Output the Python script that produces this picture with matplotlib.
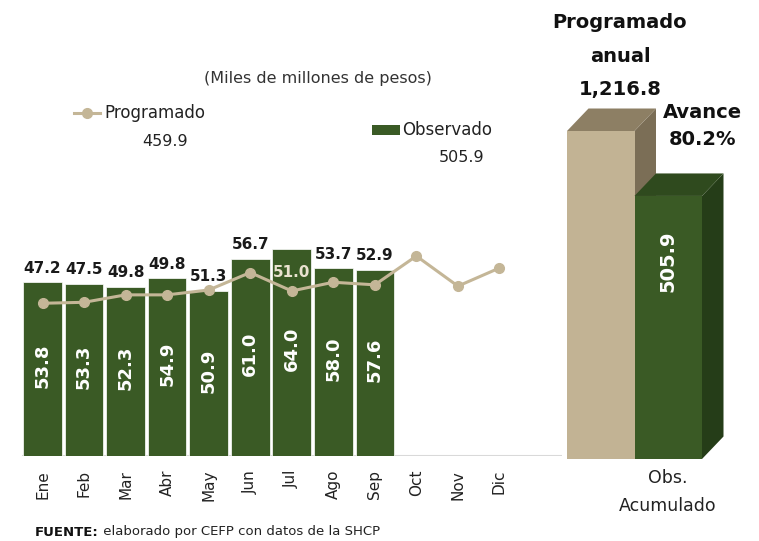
import numpy as np
import matplotlib
matplotlib.use("Agg")
import matplotlib.pyplot as plt
from matplotlib.lines import Line2D
from matplotlib.patches import Rectangle, Polygon

# ---- data ----
meses = ["Ene", "Feb", "Mar", "Abr", "May", "Jun", "Jul", "Ago", "Sep", "Oct", "Nov", "Dic"]
observado = [53.8, 53.3, 52.3, 54.9, 50.9, 61.0, 64.0, 58.0, 57.6]
programado = [47.2, 47.5, 49.8, 49.8, 51.3, 56.7, 51.0, 53.7, 52.9, 61.8, 52.5, 58.1]
n_etiq = 9                      # programado labelled only Ene-Sep
total_prog = 459.9
total_obs = 505.9
anual_prog = 1216.8
avance_pct = 80.2
acum_pct = [100.0, avance_pct]  # right panel: programado anual vs obs. acumulado

VERDE = "#3a5a25"; VERDE_TOP = "#2f4a1e"; VERDE_SIDE = "#253d18"
TAN = "#c2b394"; TAN_TOP = "#8d7f64"; TAN_SIDE = "#7b6e56"
LINEA = "#c4b697"
GRIS = "#d9d9d9"
NUM_FONT = ["Liberation Sans Narrow", "DejaVu Sans"]

W, H = 759, 541
fig = plt.figure(figsize=(W / 100, H / 100), dpi=100)
def fx(x): return x / W
def fy(y): return 1 - y / H

# ---- left panel: monthly bars + line ----
ax = fig.add_axes([21.75 / W, (H - 456) / H, 540 / W, 226.5 / H])
x = np.arange(len(meses))
ax.bar(x[:len(observado)], observado, width=0.93, color=VERDE, edgecolor="white", linewidth=0.5, zorder=2)
ax.plot(x, programado, color=LINEA, lw=2.2, marker="o", ms=7, zorder=3)
ax.axhline(0, color=GRIS, lw=1.5, zorder=1)
ax.set_xlim(-0.5, 12.5); ax.set_ylim(0, 70)
for s in ax.spines.values():
    s.set_visible(False)
ax.set_yticks([])
ax.set_xticks(x)
ax.set_xticklabels(meses, rotation=90, fontsize=11, color="#222222")
ax.tick_params(axis="x", length=0, pad=10)

for i, v in enumerate(observado):
    ax.text(i, v / 2 + 1, f"{v:.1f}", rotation=90, ha="center", va="center",
            color="white", fontweight="bold", fontsize=13, zorder=4)
for i in range(n_etiq):
    if meses[i] == "Jul":   # label sits inside the bar, above the point
        ax.annotate(f"{programado[i]:.1f}", (i, programado[i]), xytext=(0, 13), textcoords="offset points",
                    ha="center", va="center", fontsize=11, fontweight="bold", color="#e9e2cf",
                    family=NUM_FONT, zorder=5)
    else:
        top = max(observado[i], programado[i])
        ax.annotate(f"{programado[i]:.1f}", (i, top), xytext=(0, 10), textcoords="offset points",
                    ha="center", va="center", fontsize=11, fontweight="bold", color="#1a1a1a",
                    family=NUM_FONT, zorder=5)

# ---- right panel: pseudo-3D accumulated bars ----
ux, uy = 67.5, 3.28   # px per unit
ax2 = fig.add_axes([555 / W, (H - 459) / H, 204 / W, 459 / H])
ax2.set_xlim(-0.5 - 12 / ux, -0.5 + 192 / ux); ax2.set_ylim(0, 459 / uy)
ax2.axis("off")
dx, dy = 21.5 / ux, 22.5 / uy
colores = [(TAN, TAN_TOP, TAN_SIDE), (VERDE, VERDE_TOP, VERDE_SIDE)]
for i, (v, (cf, ct, cs)) in enumerate(zip(acum_pct, colores)):
    l, r = i - 0.5, i + 0.5
    ax2.add_patch(Polygon([(r, 0), (r + dx, dy), (r + dx, v + dy), (r, v)], closed=True, fc=cs, ec="none", zorder=2 + 3 * i))
    ax2.add_patch(Polygon([(l, v), (l + dx, v + dy), (r + dx, v + dy), (r, v)], closed=True, fc=ct, ec="none", zorder=2 + 3 * i))
    ax2.add_patch(Rectangle((l, 0), 1.0, v, fc=cf, ec="none", zorder=3 + 3 * i))
ax2.text(1, acum_pct[1] * 0.75, f"{total_obs:.1f}", rotation=90, ha="center", va="center",
         color="white", fontweight="bold", fontsize=14, zorder=10)

# ---- texts ----
fig.text(fx(620), fy(22), "Programado", ha="center", va="center", fontsize=14, fontweight="bold", color="#111111")
fig.text(fx(620), fy(57), "anual", ha="center", va="center", fontsize=14, fontweight="bold", color="#111111")
fig.text(fx(620), fy(89), f"{anual_prog:,.1f}", ha="center", va="center", fontsize=14, fontweight="bold", color="#111111")
fig.text(fx(702), fy(112), "Avance", ha="center", va="center", fontsize=14, fontweight="bold", color="#111111")
fig.text(fx(702), fy(140), f"{avance_pct:.1f}%", ha="center", va="center", fontsize=14, fontweight="bold", color="#111111")
fig.text(fx(668), fy(478), "Obs.", ha="center", va="center", fontsize=12.5, color="#222222")
fig.text(fx(668), fy(506), "Acumulado", ha="center", va="center", fontsize=12.5, color="#222222")

fig.text(fx(318), fy(78), "(Miles de millones de pesos)", ha="center", va="center", fontsize=11.5, color="#333333")
fig.add_artist(Line2D([fx(74), fx(100)], [fy(113), fy(113)], color=LINEA, lw=2.2, transform=fig.transFigure))
fig.add_artist(Line2D([fx(87)], [fy(113)], color=LINEA, marker="o", ms=7, transform=fig.transFigure))
fig.text(fx(104), fy(113), "Programado", ha="left", va="center", fontsize=12, color="#222222")
fig.text(fx(165), fy(141), f"{total_prog:.1f}", ha="center", va="center", fontsize=11.5, color="#222222")
fig.add_artist(Rectangle((fx(372), fy(135)), 28 / W, 10 / H, fc=VERDE, ec="none", transform=fig.transFigure))
fig.text(fx(402), fy(130), "Observado", ha="left", va="center", fontsize=12, color="#222222")
fig.text(fx(462), fy(157), f"{total_obs:.1f}", ha="center", va="center", fontsize=11.5, color="#222222")

t = fig.text(fx(35), fy(532), "FUENTE:", ha="left", va="center", fontsize=9.5, fontweight="bold", color="#111111")
ax.annotate(" elaborado por CEFP con datos de la SHCP", xy=(1, 0.5), xycoords=t, ha="left", va="center",
            fontsize=9.5, color="#222222", annotation_clip=False)

fig.savefig("out.png", dpi=100)
